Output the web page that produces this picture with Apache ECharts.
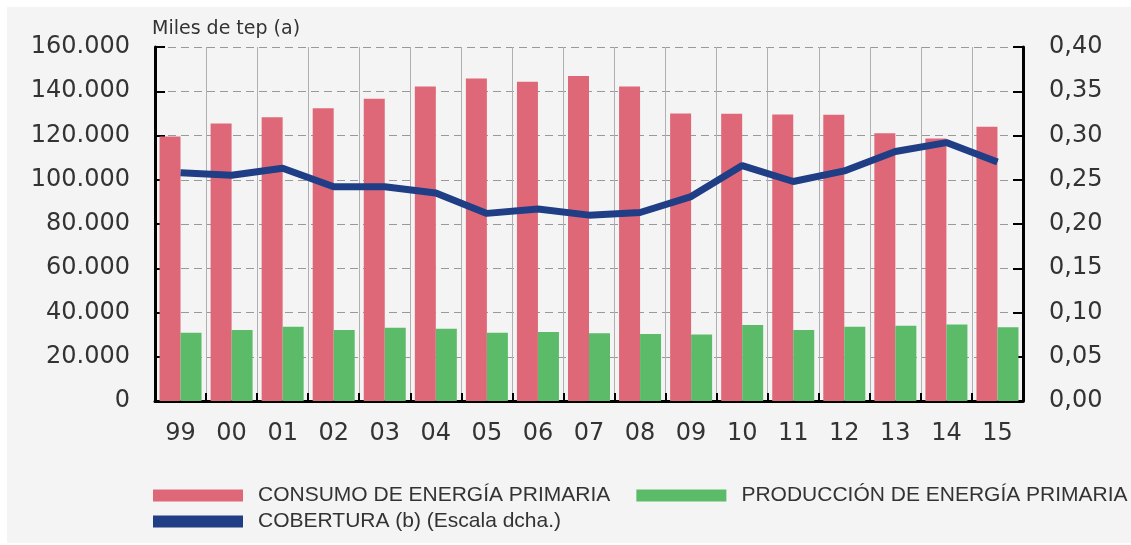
<!DOCTYPE html>
<html>
<head>
<meta charset="utf-8">
<script src="https://cdn.jsdelivr.net/npm/echarts@6/dist/echarts.min.js"></script>
<style>
    html, body { margin: 0; padding: 0; background: #ffffff; }
    #chart { position: absolute; left: 7px; top: 7px; width: 1124px; height: 536px; }
</style>
</head>
<body>
<div id="chart"></div>
<script>
    // datos
    var years = ['99', '00', '01', '02', '03', '04', '05', '06', '07', '08', '09', '10', '11', '12', '13', '14', '15'];
    var consumo = [119500, 125400, 128200, 132300, 136600, 142100, 145800, 144300, 146900, 142100, 130000, 129800, 129500, 129400, 121000, 118700, 124000];
    var produccion = [30900, 32100, 33600, 32100, 33100, 32700, 30900, 31200, 30600, 30300, 30100, 34300, 32100, 33600, 34000, 34600, 33300];
    var cobertura = [0.258, 0.255, 0.263, 0.242, 0.242, 0.235, 0.212, 0.217, 0.210, 0.213, 0.231, 0.266, 0.248, 0.260, 0.282, 0.292, 0.270];

    var RED = '#df6878';
    var GREEN = '#5bbb68';
    var BLUE = '#1f3e86';
    var labelFont = 'DejaVu Sans';

    var chart = echarts.init(document.getElementById('chart'));

    function legendBase(top, names) {
        return {
            left: 146,
            top: top,
            padding: 0,
            itemWidth: 90,
            itemHeight: 12,
            itemGap: 26,
            icon: 'rect',
            selectedMode: false,
            textStyle: {
                color: '#333',
                fontFamily: 'Liberation Sans',
                fontSize: 21,
                padding: [0, 0, 0, 10]
            },
            data: names
        };
    }

    chart.setOption({
        backgroundColor: '#f4f4f4',
        animation: false,
        grid: {
            left: 148,
            right: 108,
            top: 40,
            bottom: 142
        },
        legend: [
            legendBase(478, ['CONSUMO DE ENERGÍA PRIMARIA', 'PRODUCCIÓN DE ENERGÍA PRIMARIA']),
            legendBase(504, [{ name: 'COBERTURA (b) (Escala dcha.)', itemStyle: { color: BLUE } }])
        ],
        xAxis: {
            type: 'category',
            data: years,
            boundaryGap: true,
            axisLine: { lineStyle: { color: '#000', width: 3 } },
            axisTick: { show: true, inside: true, length: 8, lineStyle: { color: '#000', width: 2 } },
            axisLabel: { color: '#333', fontFamily: labelFont, fontSize: 24, margin: 21 },
            splitLine: { show: true, lineStyle: { color: '#b0b0b0', width: 1 } }
        },
        yAxis: [{
            type: 'value',
            min: 0,
            max: 160000,
            interval: 20000,
            name: 'Miles de tep (a)',
            nameLocation: 'end',
            nameGap: 8,
            nameTextStyle: { color: '#333', fontFamily: labelFont, fontSize: 19, align: 'left', padding: [0, 0, 0, -3] },
            axisLine: { show: true, lineStyle: { color: '#000', width: 3 } },
            axisTick: { show: true, inside: true, length: 10, lineStyle: { color: '#000', width: 2 } },
            axisLabel: {
                color: '#333', fontFamily: labelFont, fontSize: 24, margin: 25,
                formatter: function (v) {
                    return v === 0 ? '0' : (v / 1000) + '.000';
                }
            },
            splitLine: { lineStyle: { color: '#999', width: 1, type: [8, 5] } }
        }, {
            type: 'value',
            min: 0,
            max: 0.40,
            interval: 0.05,
            axisLine: { show: true, lineStyle: { color: '#000', width: 3 } },
            axisTick: { show: true, inside: true, length: 10, lineStyle: { color: '#000', width: 2 } },
            axisLabel: {
                color: '#333', fontFamily: labelFont, fontSize: 24, margin: 26,
                formatter: function (v) {
                    return v.toFixed(2).replace('.', ',');
                }
            },
            splitLine: { show: false }
        }],
        series: [{
            name: 'CONSUMO DE ENERGÍA PRIMARIA',
            type: 'bar',
            barWidth: 21,
            barGap: '0%',
            itemStyle: { color: RED },
            data: consumo
        }, {
            name: 'PRODUCCIÓN DE ENERGÍA PRIMARIA',
            type: 'bar',
            barWidth: 21,
            barGap: '0%',
            itemStyle: { color: GREEN },
            data: produccion
        }, {
            name: 'COBERTURA (b) (Escala dcha.)',
            type: 'line',
            yAxisIndex: 1,
            symbol: 'none',
            lineStyle: { color: BLUE, width: 7 },
            itemStyle: { color: BLUE },
            data: cobertura
        }]
    });
</script>
</body>
</html>
